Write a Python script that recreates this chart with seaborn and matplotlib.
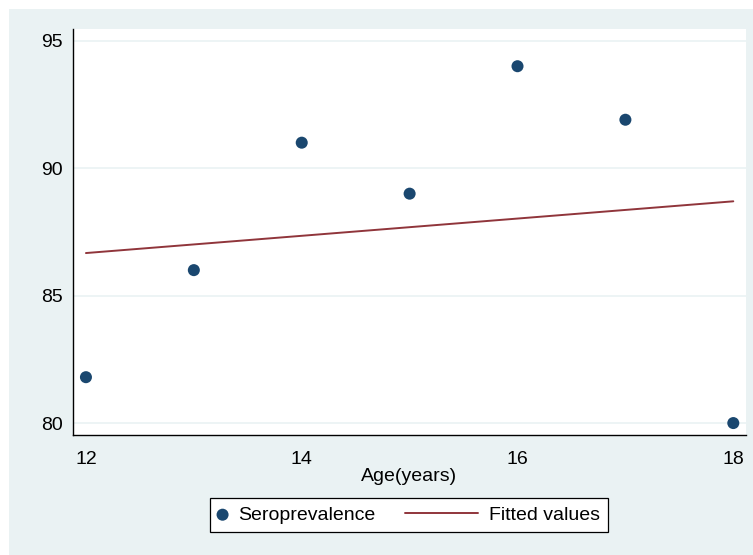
import numpy as np
import pandas as pd
import matplotlib
matplotlib.use("Agg")
import matplotlib.pyplot as plt
from matplotlib.patches import Rectangle
from matplotlib.legend_handler import HandlerLine2D
import seaborn as sns

# ── data ─────────────────────────────────────────────────────────────────────
age = [12, 13, 14, 15, 16, 17, 18]
seroprevalence = [81.8, 86.0, 91.0, 89.0, 94.0, 91.9, 80.0]
fit_age = [12, 18]
fitted_values = [86.67, 88.70]
x_ticks = [12, 14, 16, 18]
y_ticks = [80, 85, 90, 95]

df = pd.DataFrame({"age": age, "sero": seroprevalence})
fit = pd.DataFrame({"age": fit_age, "fitted": fitted_values})

sns.set_theme(style="white")
plt.rcParams["font.family"] = ["Liberation Sans", "DejaVu Sans"]
plt.rcParams["text.color"] = "black"
plt.rcParams["axes.labelcolor"] = "black"

navy = "#1A476F"
maroon = "#90353B"
bg = "#EAF2F3"
fs = 14


class LongLine(HandlerLine2D):
    # legend key line longer than the (tiny) handle box, extending to the left
    def get_xdata(self, legend, xdescent, ydescent, width, height, fontsize):
        x = np.array([-xdescent + width - 52.0, -xdescent + width])
        return x, x


fig = plt.figure(figsize=(7.53, 5.55), dpi=100, facecolor="white")
fig.patches.append(Rectangle((9 / 753, 0), 1, 1 - 9 / 555, transform=fig.transFigure,
                             facecolor=bg, edgecolor="none", zorder=-10))
ax = fig.add_axes([73 / 753, 1 - 435.3 / 555, (745.7 - 73) / 753, (435.3 - 29) / 555])
ax.set_facecolor("white")

sns.scatterplot(data=df, x="age", y="sero", ax=ax, color=navy, s=75,
                edgecolor="none", label="Seroprevalence", zorder=3)
sns.lineplot(data=fit, x="age", y="fitted", ax=ax, color=maroon, linewidth=1.4,
             label="Fitted values", zorder=2)

ax.set_xlim(11.88, 18.115)
ax.set_ylim(79.52, 95.46)
ax.set_xticks(x_ticks)
ax.set_yticks(y_ticks)
for y in y_ticks:
    ax.axhline(y, color=bg, linewidth=1.2, zorder=0)

for side in ["top", "right"]:
    ax.spines[side].set_visible(False)
for side in ["left", "bottom"]:
    ax.spines[side].set_color("black")
    ax.spines[side].set_linewidth(1.0)

ax.tick_params(axis="both", which="major", direction="out", length=5.5, width=0.9,
               color="#444444", labelsize=fs, labelcolor="black")
ax.tick_params(axis="y", pad=2)
ax.tick_params(axis="x", pad=5.5)
ax.set_xlabel("Age(years)", fontsize=fs, labelpad=0, color="black")
ax.set_ylabel("")

handles, labels = ax.get_legend_handles_labels()
line_handle = handles[1]
if ax.get_legend():
    ax.get_legend().remove()
leg = ax.legend(handles, labels, loc="center", bbox_to_anchor=(409.3 / 753, 1 - 515 / 555),
                bbox_transform=fig.transFigure, ncol=2, frameon=True, fancybox=False,
                fontsize=fs, borderpad=0.41, handlelength=0.44, columnspacing=4.8,
                handletextpad=0.6, borderaxespad=0, labelcolor="black",
                handler_map={line_handle: LongLine()})
leg.get_frame().set_edgecolor("black")
leg.get_frame().set_linewidth(0.9)
leg.get_frame().set_facecolor("white")
leg.get_frame().set_alpha(1)

fig.savefig("out.png", dpi=100, facecolor=fig.get_facecolor())
